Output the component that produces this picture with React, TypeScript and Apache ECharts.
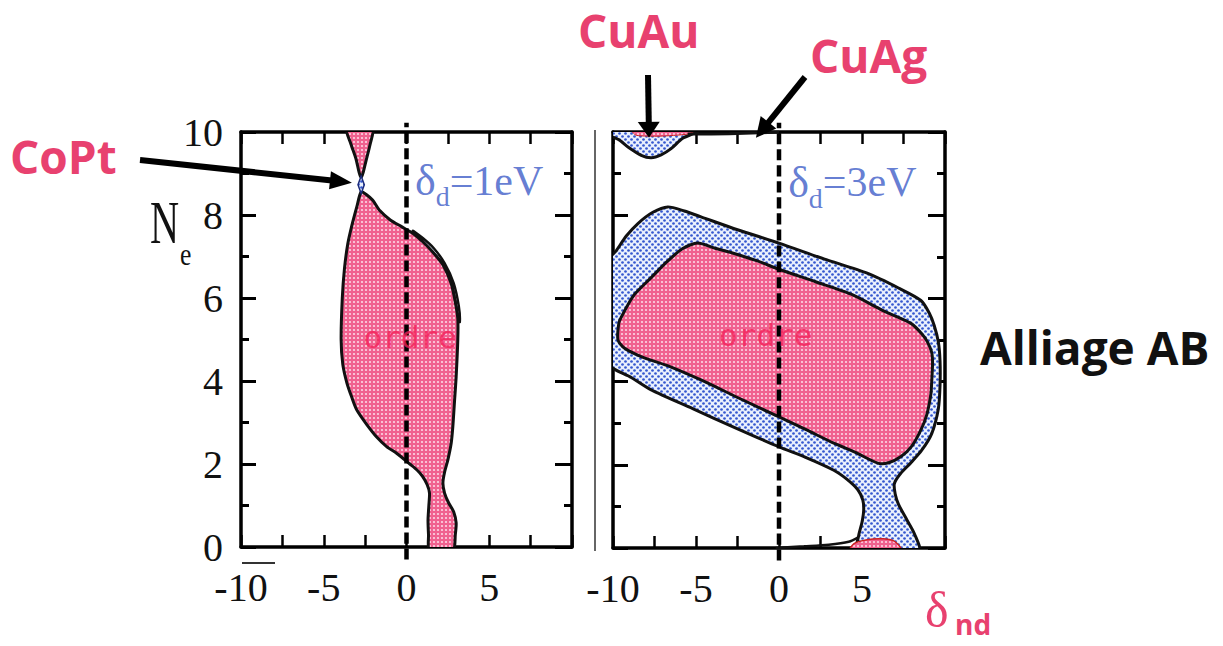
import React, { useEffect, useRef } from "react";
import * as echarts from "echarts";

// ---------- axis / tick data ----------
const xMin = -10;
const xMax = 10;
const xTickStep = 2.5;
const xLabelValues = [-10, -5, 0, 5];
const yMin = 0;
const yMax = 10;
const yTickStep = 2;

// ---------- left panel (δd = 1 eV) ----------
const leftTopPink: number[][] = [
  [-3.64, 10.1], [-2.03, 10.1], [-2.2, 9.7], [-2.45, 9.3], [-2.62, 9.02], [-2.74, 8.9],
  [-2.86, 9.02], [-3.05, 9.35], [-3.35, 9.7],
];
const leftCoPtBlue: number[][] = [
  [-2.74, 8.94], [-2.55, 8.73], [-2.74, 8.52], [-2.93, 8.73],
];
const leftMainPink: number[][] = [
  [-2.74, 8.56], [-3.0, 8.2], [-3.3, 7.75], [-3.55, 7.3], [-3.75, 6.7], [-3.88, 6.0], [-3.95, 5.0],
  [-3.85, 4.4], [-3.6, 3.95], [-3.3, 3.6], [-3.0, 3.3], [-2.4, 2.95], [-1.8, 2.65], [-1.2, 2.42],
  [-0.6, 2.26], [0.2, 2.0], [0.65, 1.85], [0.97, 1.7], [1.25, 1.5], [1.39, 1.3], [1.35, 1.0],
  [1.3, 0.65], [1.33, 0.3], [1.4, -0.1],
  [2.8, -0.1], [2.95, 0.3], [3.0, 0.58], [2.85, 0.85], [2.55, 1.06], [2.3, 1.3], [2.2, 1.54],
  [2.3, 1.8], [2.5, 2.1], [2.7, 2.5], [2.8, 2.9], [2.9, 3.5], [3.0, 4.1], [3.1, 5.0], [3.1, 5.5],
  [2.95, 5.9], [2.7, 6.35], [2.2, 6.8], [1.6, 7.1], [1.0, 7.35], [0.38, 7.56], [-0.3, 7.72],
  [-0.98, 7.88], [-1.6, 8.1], [-2.05, 8.36], [-2.45, 8.5],
];
const leftBlueSliver: number[][] = [
  [0.38, 7.62], [1.0, 7.44], [1.65, 7.2], [2.3, 6.84], [2.85, 6.36], [3.16, 5.8], [3.22, 5.42],
  [3.1, 5.5], [2.95, 5.9], [2.7, 6.35], [2.2, 6.8], [1.6, 7.1], [1.0, 7.35],
];

// ---------- right panel (δd = 3 eV) ----------
const rightOuterBlue: number[][] = [
  [-6.7, 8.2], [-5.7, 8.1], [-4.7, 7.96], [-2.5, 7.65], [0, 7.33], [2.7, 6.95], [5.35, 6.6],
  [7.2, 6.25], [8.55, 5.95], [9.05, 5.65], [9.35, 5.35], [9.6, 4.95], [9.7, 4.5], [9.7, 3.9],
  [9.6, 3.35], [9.2, 2.75], [8.6, 2.35], [7.95, 2.05], [7.3, 1.78], [6.95, 1.55], [7.0, 1.3],
  [7.2, 1.05], [7.7, 0.68], [8.15, 0.35], [8.45, -0.1],
  [4.7, -0.1], [4.8, 0.3], [5.0, 0.62], [5.1, 0.9], [5.05, 1.15], [4.75, 1.4], [4.1, 1.65],
  [3.3, 1.87], [1.6, 2.18], [0, 2.43], [-2.7, 2.9], [-5.2, 3.35], [-7.7, 3.8], [-8.9, 4.1],
  [-10.3, 4.45], [-10.3, 6.9], [-9.8, 7.15], [-9.2, 7.5], [-8.5, 7.8], [-7.6, 8.07],
];
const rightInnerPink: number[][] = [
  [-4.9, 7.33], [-3.8, 7.2], [-2.7, 7.08], [-1.3, 6.9], [0, 6.7], [2.2, 6.4], [4.35, 6.1],
  [6.3, 5.7], [7.95, 5.4], [8.6, 5.15], [8.95, 4.95], [9.2, 4.7], [9.25, 4.44], [9.2, 4.0],
  [9.15, 3.7], [8.9, 3.2], [8.55, 2.84], [8.0, 2.45], [7.35, 2.2], [6.6, 2.05], [5.95, 2.04],
  [4.6, 2.3], [3.3, 2.52], [1.6, 2.85], [0, 3.15], [-2.4, 3.6], [-4.7, 4.04], [-6.5, 4.35],
  [-8.3, 4.6], [-9.3, 4.8], [-9.7, 5.0], [-9.65, 5.4], [-9.5, 5.55], [-9.1, 5.85], [-8.7, 6.1],
  [-7.7, 6.5], [-6.7, 6.9], [-5.8, 7.2],
];
const rightCuAuBlue: number[][] = [
  [-10.3, 10.1], [-10.3, 9.95], [-9.6, 9.8], [-9.1, 9.64], [-8.3, 9.44], [-7.7, 9.38],
  [-7.1, 9.45], [-6.5, 9.6], [-5.8, 9.85], [-5.1, 9.97], [-4.6, 10.1],
];
const rightCuAuPink: number[][] = [
  [-8.9, 10.05], [-8.6, 9.92], [-7.2, 9.9], [-5.5, 9.95], [-5.0, 10.05],
];
const rightBottomPink: number[][] = [
  [4.25, -0.1], [4.5, 0.1], [5.3, 0.2], [6.3, 0.22], [7.0, 0.15], [7.4, -0.1],
];
const rightTopLine: number[][] = [[-5.5, 9.95], [-3, 9.96], [-1.2, 9.98], [0, 10]];
const rightBottomLine: number[][] = [[-0.2, 0.0], [1.5, 0.04], [3, 0.08], [4.2, 0.15], [4.75, 0.25]];

const zeroLine: number[][] = [[0, -0.3], [0, 10.22]];

// text anchored on data coordinates
const orderLabels = [
  { grid: 0, x: 0.22, y: 5.07, text: "ordre" },
  { grid: 1, x: -0.8, y: 5.12, text: "ordre" },
];
const deltaNotes = [
  { grid: 0, x: 0.48, y: 8.82, value: "1eV" },
  { grid: 1, x: 0.52, y: 8.79, value: "3eV" },
];
// arrow tips in data coordinates
const arrowTips = [
  { grid: 0, x: -3.3, y: 8.78 },  // CoPt
  { grid: 1, x: -7.83, y: 9.86 }, // CuAu
  { grid: 1, x: -1.39, y: 9.86 }, // CuAg
];

const PINK = "#e8416f";
const BLUE_TXT = "#3d5cc7";
const SERIF = "Liberation Serif";
const SANS = "Open Sans";

function dotPattern(bg: string, dot: string, period: number, r: number, stagger: boolean): any {
  const c = document.createElement("canvas");
  c.width = period;
  c.height = period;
  const ctx = c.getContext("2d")!;
  ctx.fillStyle = bg;
  ctx.fillRect(0, 0, period, period);
  ctx.fillStyle = dot;
  const pts = stagger
    ? [[period * 0.25, period * 0.25], [period * 0.75, period * 0.75]]
    : [[period / 2, period / 2]];
  pts.forEach(([x, y]) => {
    ctx.beginPath();
    ctx.arc(x, y, r, 0, Math.PI * 2);
    ctx.fill();
  });
  return { image: c, repeat: "repeat", imageWidth: period, imageHeight: period };
}

function polySeries(points: number[][], fill: any, g: number, z: number, smooth = 0.25, stroke = "#111", lw = 3) {
  return {
    type: "custom",
    xAxisIndex: g * 2,
    yAxisIndex: g * 2,
    clip: true,
    z,
    silent: true,
    data: points,
    renderItem: (params: any, api: any) => {
      if (params.dataIndex !== 0) return null;
      const pts = points.map((p) => api.coord(p));
      return {
        type: "polygon",
        shape: { points: pts, smooth },
        style: { fill, stroke, lineWidth: lw },
      };
    },
  };
}

function lineSeries(points: number[][], g: number, z: number, extra: any = {}) {
  return {
    type: "line",
    xAxisIndex: g * 2,
    yAxisIndex: g * 2,
    data: points,
    showSymbol: false,
    symbol: "none",
    silent: true,
    z,
    smooth: 0.3,
    lineStyle: { color: "#111", width: 2.5, ...(extra.lineStyle || {}) },
    clip: extra.clip !== undefined ? extra.clip : true,
  };
}

function arrowGraphic(tail: number[], tip: number[], width: number, headLen: number, headW: number) {
  const dx = tip[0] - tail[0];
  const dy = tip[1] - tail[1];
  const L = Math.hypot(dx, dy);
  const ux = dx / L;
  const uy = dy / L;
  const bx = tip[0] - ux * headLen;
  const by = tip[1] - uy * headLen;
  const px = -uy;
  const py = ux;
  return [
    {
      type: "line",
      z: 100,
      shape: { x1: tail[0], y1: tail[1], x2: bx + ux * 2, y2: by + uy * 2 },
      style: { stroke: "#000", lineWidth: width },
    },
    {
      type: "polygon",
      z: 100,
      shape: {
        points: [
          [tip[0], tip[1]],
          [bx + (px * headW) / 2, by + (py * headW) / 2],
          [bx - (px * headW) / 2, by - (py * headW) / 2],
        ],
      },
      style: { fill: "#000" },
    },
  ];
}

function makeAxes() {
  const xAxis: any[] = [];
  const yAxis: any[] = [];
  for (let g = 0; g < 2; g++) {
    ["bottom", "top"].forEach((pos) => {
      xAxis.push({
        type: "value",
        gridIndex: g,
        position: pos,
        min: xMin,
        max: xMax,
        interval: xTickStep,
        axisLine: { show: true, onZero: false, lineStyle: { color: "#000", width: 3.5 } },
        axisTick: { show: true, inside: true, length: 12, lineStyle: { color: "#000", width: 2.5 } },
        splitLine: { show: false },
        axisLabel:
          pos === "bottom"
            ? {
                show: true,
                margin: 20,
                fontFamily: SERIF,
                fontSize: 40,
                color: "#111",
                formatter: (v: number) => (xLabelValues.includes(v) ? String(v) : ""),
              }
            : { show: false },
      });
    });
    ["left", "right"].forEach((pos) => {
      yAxis.push({
        type: "value",
        gridIndex: g,
        position: pos,
        min: yMin,
        max: yMax,
        interval: yTickStep,
        axisLine: { show: true, onZero: false, lineStyle: { color: "#000", width: 3.5 } },
        axisTick: { show: true, inside: true, length: pos === "left" ? 15 : 17, lineStyle: { color: "#000", width: 3 } },
        minorTick: { show: true, splitNumber: 2, length: 8, lineStyle: { color: "#000", width: 3 } },
        splitLine: { show: false },
        minorSplitLine: { show: false },
        axisLabel:
          g === 0 && pos === "left"
            ? { show: true, margin: 18, fontFamily: SERIF, fontSize: 40, color: "#111" }
            : { show: false },
      });
    });
  }
  return { xAxis, yAxis };
}

export default function App() {
  const ref = useRef<HTMLDivElement>(null);
  useEffect(() => {
    if (!ref.current) return;
    const chart = echarts.init(ref.current, undefined, { renderer: "svg" });
    const pinkFill = dotPattern("#f0618f", "#fdd8e5", 4, 1.1, false);
    const blueFill = dotPattern("#e9f0fd", "#3457cf", 6, 1.35, true);
    const { xAxis, yAxis } = makeAxes();

    const series: any[] = [
      // left
      polySeries(leftBlueSliver, blueFill, 0, 2, 0.2, "#111", 2.5),
      polySeries(leftTopPink, pinkFill, 0, 3, 0.2),
      polySeries(leftMainPink, pinkFill, 0, 3, 0.25),
      polySeries(leftCoPtBlue, blueFill, 0, 4, 0, "#1a2a7a", 1.5),
      lineSeries(zeroLine, 0, 6, { lineStyle: { type: [11, 5], width: 4.5, color: "#000" }, clip: false }),
      // right
      polySeries(rightOuterBlue, blueFill, 1, 2, 0.25),
      polySeries(rightInnerPink, pinkFill, 1, 3, 0.25),
      polySeries(rightCuAuBlue, blueFill, 1, 3, 0.25),
      polySeries(rightCuAuPink, pinkFill, 1, 4, 0.2, "#c22", 1),
      polySeries(rightBottomPink, pinkFill, 1, 4, 0.3, "#c22", 1.5),
      lineSeries(rightTopLine, 1, 5, { lineStyle: { width: 3 } }),
      lineSeries(rightBottomLine, 1, 5, { lineStyle: { width: 2.5 } }),
      lineSeries(zeroLine, 1, 6, { lineStyle: { type: [11, 5], width: 4.5, color: "#000" }, clip: false }),
    ];

    orderLabels.forEach((o) => {
      series.push({
        type: "scatter",
        xAxisIndex: o.grid * 2,
        yAxisIndex: o.grid * 2,
        data: [[o.x, o.y]],
        symbolSize: 1,
        itemStyle: { color: "rgba(0,0,0,0)" },
        silent: true,
        z: 7,
        label: {
          show: true,
          position: "inside",
          formatter: o.text,
          fontFamily: "DejaVu Sans Mono",
          fontSize: 31,
          color: "#f4225a",
        },
      });
    });
    deltaNotes.forEach((d) => {
      series.push({
        type: "scatter",
        xAxisIndex: d.grid * 2,
        yAxisIndex: d.grid * 2,
        data: [[d.x, d.y]],
        symbolSize: 1,
        itemStyle: { color: "rgba(0,0,0,0)" },
        silent: true,
        z: 7,
        label: {
          show: true,
          position: "right",
          distance: 0,
          formatter: "{a|δ}{b|d}{c|=" + d.value + "}",
          rich: {
            a: { fontFamily: SERIF, fontSize: 44, color: BLUE_TXT, lineHeight: 46 },
            b: { fontFamily: SERIF, fontSize: 28, color: BLUE_TXT, lineHeight: 46, padding: [32, 0, 0, 0] },
            c: { fontFamily: SERIF, fontSize: 42, color: BLUE_TXT, lineHeight: 46 },
          },
        },
      });
    });

    chart.setOption({
      animation: false,
      backgroundColor: "#fff",
      grid: [
        { left: 241, top: 132, width: 331, height: 415 },
        { left: 613, top: 132, width: 332, height: 416 },
      ],
      xAxis,
      yAxis,
      series,
    });

    const tipPx = arrowTips.map((t) => chart.convertToPixel({ gridIndex: t.grid }, [t.x, t.y]) as number[]);
    const graphic: any[] = [
      ...arrowGraphic([140, 160], tipPx[0], 6, 22, 18),
      ...arrowGraphic([648, 75], tipPx[1], 6, 16, 22),
      ...arrowGraphic([805, 77], tipPx[2], 6, 20, 20),
      { type: "line", z: 50, shape: { x1: 595, y1: 130, x2: 595, y2: 551 }, style: { stroke: "#333", lineWidth: 1.5 } },
      { type: "line", z: 50, shape: { x1: 242, y1: 563, x2: 275, y2: 563 }, style: { stroke: "#333", lineWidth: 2 } },
      { type: "text", z: 100, x: 10, y: 156, style: { text: "CoPt", font: `bold 46px "${SANS}"`, fill: PINK, textVerticalAlign: "middle" } },
      { type: "text", z: 100, x: 578, y: 30, style: { text: "CuAu", font: `bold 46px "${SANS}"`, fill: PINK, textVerticalAlign: "middle" } },
      { type: "text", z: 100, x: 810, y: 55, style: { text: "CuAg", font: `bold 46px "${SANS}"`, fill: PINK, textVerticalAlign: "middle" } },
      { type: "text", z: 100, x: 980, y: 347, style: { text: "Alliage AB", font: `bold 46px "${SANS}"`, fill: "#111", textVerticalAlign: "middle" } },
      { type: "text", z: 100, x: 150, y: 222, scaleX: 0.65, style: { text: "N", font: `62px "${SERIF}"`, fill: "#111", textVerticalAlign: "middle" } },
      { type: "text", z: 100, x: 180, y: 254, scaleX: 0.8, style: { text: "e", font: `32px "${SERIF}"`, fill: "#111", textVerticalAlign: "middle" } },
      { type: "text", z: 100, x: 925, y: 610, style: { text: "δ", font: `50px "${SERIF}"`, fill: PINK, textVerticalAlign: "middle" } },
      { type: "text", z: 100, x: 955, y: 624, style: { text: "nd", font: `bold 28px "${SANS}"`, fill: PINK, textVerticalAlign: "middle" } },
    ];
    chart.setOption({ graphic });

    return () => chart.dispose();
  }, []);
  return <div ref={ref} style={{ position: "fixed", left: 0, top: 0, width: 1223, height: 646, background: "#fff" }} />;
}
